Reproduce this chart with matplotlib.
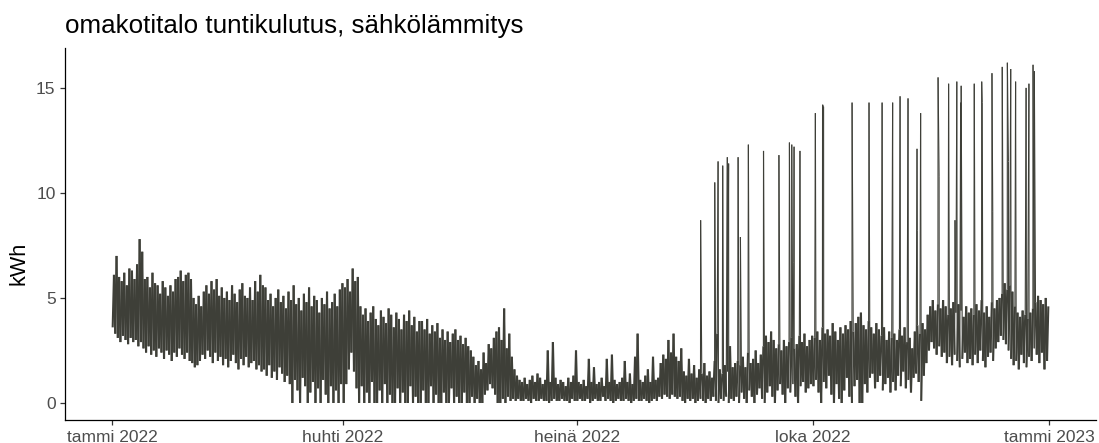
import numpy as np
import matplotlib
matplotlib.use('Agg')
import matplotlib.pyplot as plt
from matplotlib.collections import LineCollection

plt.rcParams['font.family'] = ['Liberation Sans', 'DejaVu Sans']

# daily minimum / maximum hourly consumption (kWh), 2022
tammi_max = [6.1, 7.0, 6.0, 5.8, 6.2, 5.6, 6.4, 6.3, 5.9, 6.6, 7.8, 7.2, 5.9, 6.0, 5.5, 6.2,
             5.7, 5.6, 5.2, 5.8, 5.5, 5.1, 5.6, 5.3, 5.9, 6.0, 6.3, 5.8, 6.1, 6.2, 5.9]
tammi_min = [3.6, 3.3, 3.1, 2.9, 3.2, 3.0, 2.8, 3.1, 2.9, 3.0, 2.7, 2.9, 2.6, 2.4, 2.7, 2.3,
             2.5, 2.2, 2.6, 2.4, 2.1, 2.5, 2.3, 2.0, 2.4, 2.2, 2.6, 2.3, 2.1, 2.4, 2.0]
helmi_max = [5.0, 4.7, 5.1, 4.6, 5.3, 5.6, 5.2, 5.8, 5.4, 5.9, 5.1, 5.5, 5.0, 5.3, 4.9, 5.6,
             5.2, 4.8, 5.4, 5.7, 5.1, 5.0, 5.5, 4.9, 5.8, 5.3, 6.1, 5.6]
helmi_min = [1.9, 1.7, 1.8, 2.0, 2.3, 2.1, 2.5, 2.2, 1.9, 2.4, 2.0, 2.2, 1.8, 2.1, 1.7, 2.0,
             2.3, 1.9, 1.6, 2.1, 1.8, 2.2, 1.7, 1.9, 2.0, 1.6, 1.8, 1.5]
maalis_max = [5.5, 4.9, 5.2, 4.6, 5.0, 5.4, 4.8, 5.1, 4.5, 5.3, 4.9, 5.6, 4.7, 5.0, 4.4, 5.2,
              4.8, 5.5, 4.6, 5.1, 4.9, 4.3, 5.0, 4.7, 5.3, 4.5, 4.8, 5.2, 4.6, 5.4, 5.7]
maalis_min = [1.6, 1.3, 1.8, 1.2, 1.5, 1.1, 1.7, 1.4, 1.0, 1.3, 0.9, 0.0, 1.1, 0.6, 0.0, 1.2,
              0.8, 0.0, 0.5, 1.0, 0.0, 0.7, 0.0, 1.1, 0.4, 0.0, 0.8, 0.0, 0.6, 0.0, 0.9]
huhti_max = [5.5, 5.9, 5.3, 6.4, 5.8, 6.0, 4.6, 4.2, 4.5, 3.9, 4.3, 4.6, 4.0, 3.7, 4.4, 4.1,
             3.8, 4.5, 4.2, 3.6, 4.3, 4.0, 3.5, 4.2, 3.9, 4.4, 3.7, 4.1, 3.4, 3.9]
huhti_min = [0.0, 0.9, 1.6, 2.4, 1.5, 0.7, 0.0, 0.8, 0.0, 0.5, 0.0, 1.0, 0.0, 0.0, 0.6, 0.0,
             0.9, 0.0, 0.4, 0.0, 0.0, 0.7, 0.0, 0.5, 0.0, 0.0, 0.8, 0.0, 0.3, 0.0]
touko_max = [3.9, 3.5, 4.0, 3.3, 3.7, 3.4, 3.8, 3.1, 3.5, 3.0, 3.4, 2.9, 3.3, 3.5, 3.0, 3.2,
             2.8, 3.1, 2.7, 2.5, 2.2, 1.8, 2.0, 1.6, 2.4, 1.9, 2.8, 2.6, 3.1, 3.4, 3.6]
touko_min = [0.0, 0.6, 0.0, 0.0, 0.8, 0.0, 0.4, 0.0, 0.0, 0.5, 0.0, 0.0, 0.7, 0.0, 0.3, 0.0,
             0.0, 0.5, 0.0, 0.0, 0.3, 0.0, 0.2, 0.0, 0.0, 0.4, 0.6, 0.9, 0.7, 0.4, 0.0]
kesa_max = [3.0, 4.5, 2.6, 3.3, 2.2, 1.6, 1.3, 1.1, 1.0, 1.2, 0.9, 1.1, 1.3, 1.0, 1.4, 1.2,
            0.9, 1.1, 2.5, 1.0, 2.9, 1.2, 0.9, 1.1, 1.0, 0.8, 1.2, 1.0, 1.3, 2.5]
kesa_min = [0.0, 0.2, 0.0, 0.3, 0.1, 0.2, 0.1, 0.2, 0.1, 0.1, 0.2, 0.1, 0.0, 0.2, 0.1, 0.1,
            0.2, 0.1, 0.1, 0.0, 0.1, 0.2, 0.1, 0.1, 0.2, 0.1, 0.1, 0.0, 0.2, 0.1]
heina_max = [1.0, 0.9, 1.1, 0.8, 2.1, 1.0, 1.7, 0.9, 1.0, 1.2, 0.8, 2.1, 1.0, 2.3, 1.1, 0.9,
             1.0, 1.2, 2.0, 1.0, 1.4, 0.9, 2.2, 3.3, 1.1, 1.0, 1.3, 1.6, 1.0, 2.2, 1.1]
heina_min = [0.1, 0.2, 0.1, 0.1, 0.2, 0.0, 0.1, 0.2, 0.1, 0.1, 0.3, 0.1, 0.2, 0.1, 0.0, 0.1,
             0.2, 0.1, 0.1, 0.2, 0.1, 0.0, 0.1, 0.2, 0.1, 0.1, 0.2, 0.1, 0.0, 0.1, 0.2]
elo_max = [1.2, 1.9, 2.3, 2.1, 3.0, 2.4, 3.3, 2.2, 2.0, 2.6, 1.5, 1.3, 2.1, 1.4, 1.8, 1.2,
           1.6, 1.4, 1.9, 1.3, 1.5, 1.2, 2.0, 3.3, 1.6, 1.4, 1.8, 1.5, 2.7, 1.7, 1.9]
elo_min = [0.1, 0.3, 0.2, 0.4, 0.3, 0.2, 0.4, 0.3, 0.2, 0.3, 0.1, 0.0, 0.2, 0.1, 0.2, 0.0,
           0.1, 0.2, 0.1, 0.0, 0.2, 0.1, 0.3, 0.1, 0.0, 0.2, 0.1, 0.3, 0.0, 0.2, 0.1]
syys_max = [2.0, 1.8, 2.2, 1.7, 2.4, 1.9, 2.1, 2.5, 1.9, 2.3, 2.7, 3.2, 2.9, 3.4, 3.0, 2.6,
            2.8, 2.5, 3.0, 2.7, 2.9, 3.1, 2.6, 2.8, 3.2, 2.9, 3.3, 2.7, 3.0, 3.2]
syys_min = [0.3, 0.0, 0.5, 0.2, 0.0, 0.6, 0.3, 0.0, 0.4, 0.7, 0.2, 0.0, 0.5, 0.8, 0.3, 0.0,
            0.6, 0.9, 0.4, 0.0, 0.7, 0.5, 0.9, 0.3, 0.0, 0.8, 1.0, 0.5, 0.7, 0.9]
loka_max = [3.1, 3.4, 3.0, 3.6, 3.3, 3.5, 3.2, 3.8, 3.4, 3.0, 3.6, 3.3, 3.7, 3.5, 3.9, 3.4,
            3.8, 4.1, 4.3, 3.7, 3.5, 3.9, 3.6, 3.3, 3.8, 3.5, 3.2, 3.6, 3.0, 3.4, 3.1]
loka_min = [0.8, 1.1, 0.5, 0.0, 1.0, 0.7, 1.3, 0.4, 0.0, 0.9, 0.2, 0.0, 0.6, 1.2, 0.3, 0.0,
            0.8, 1.1, 0.0, 0.0, 0.9, 0.5, 1.2, 1.4, 0.7, 1.0, 1.3, 0.6, 0.9, 1.2, 0.5]
marras_max = [3.3, 3.0, 3.5, 3.2, 3.6, 2.9, 3.1, 2.6, 3.4, 3.7, 3.3, 3.8, 3.5, 4.2, 4.6, 4.9,
              4.4, 4.7, 4.5, 4.9, 4.6, 4.2, 4.5, 4.8, 4.3, 4.7, 4.4, 4.1, 4.6, 4.3]
marras_min = [1.0, 0.6, 1.3, 0.8, 1.5, 0.7, 1.1, 0.5, 1.2, 1.4, 1.0, 0.1, 1.3, 1.9, 2.5, 2.9,
              2.6, 2.3, 2.7, 2.2, 2.4, 1.9, 2.2, 1.8, 2.3, 2.0, 1.7, 2.1, 2.4, 1.9]
joulu_max = [4.5, 4.2, 4.7, 4.4, 4.9, 4.3, 4.6, 4.1, 4.8, 4.5, 4.9, 5.0, 5.2, 5.7, 5.4, 5.6,
             5.3, 4.6, 4.3, 4.1, 4.4, 4.2, 4.0, 4.3, 4.5, 4.8, 5.1, 4.9, 4.7, 5.0, 4.6]
joulu_min = [2.1, 1.8, 2.3, 1.9, 2.5, 2.0, 1.7, 2.2, 2.4, 2.0, 2.6, 2.9, 3.2, 3.0, 2.8, 2.5,
             2.1, 1.8, 2.0, 1.6, 2.3, 1.9, 1.7, 2.2, 2.0, 2.6, 2.3, 1.9, 2.4, 1.6, 2.0]

# single hours with the water heater / sauna peaks (day of year, kWh)
spike_day = [229.3, 234.8, 236.1, 237.9, 239.7, 240.2, 243.9, 244.8, 247.9, 253.8,
             259.8, 263.9, 264.8, 265.6, 265.7, 268.0, 274.0, 276.8, 277.2, 288.3,
             294.9, 300.0, 304.1, 307.0, 307.1, 310.1, 313.6, 313.7, 315.0, 321.8,
             322.2, 325.9, 328.4, 329.1, 330.6, 330.8, 335.9, 338.8, 339.0, 342.8,
             343.1, 346.8, 348.8, 349.2, 350.1, 352.0, 356.1, 357.2, 358.8, 359.3]
spike_kwh = [8.7, 10.5, 11.5, 11.3, 11.7, 11.4, 11.7, 7.9, 12.3, 12.0,
             11.8, 12.4, 12.3, 6.7, 12.2, 12.0, 13.8, 14.2, 14.1, 14.3,
             14.3, 14.3, 14.3, 14.6, 6.0, 14.5, 12.1, 8.2, 13.8, 15.5,
             10.8, 15.2, 8.7, 15.3, 14.3, 15.1, 15.2, 15.3, 14.3, 15.7,
             9.1, 16.0, 16.2, 11.5, 15.9, 15.3, 15.0, 15.2, 16.1, 15.8]

tick_days = [0, 90, 181, 273, 365]
tick_labels = ['tammi 2022', 'huhti 2022', 'heinä 2022', 'loka 2022', 'tammi 2023']

#%%
day_min = np.concatenate([tammi_min, helmi_min, maalis_min, huhti_min, touko_min, kesa_min,
                          heina_min, elo_min, syys_min, loka_min, marras_min, joulu_min])
day_max = np.concatenate([tammi_max, helmi_max, maalis_max, huhti_max, touko_max, kesa_max,
                          heina_max, elo_max, syys_max, loka_max, marras_max, joulu_max])
days = np.arange(len(day_max))

# one low and one high hour per day, plus the single peak hours
t = np.column_stack([days + 0.25, days + 0.75]).ravel()
v = np.column_stack([day_min, day_max]).ravel()
peak = np.zeros(len(t), dtype=bool)
t = np.concatenate([t, spike_day])
v = np.concatenate([v, spike_kwh])
peak = np.concatenate([peak, np.ones(len(spike_day), dtype=bool)])
order = np.argsort(t, kind='stable')
t, v, peak = t[order], v[order], peak[order]

# peak hours are drawn as thin strokes, the daily band thicker
pts = np.column_stack([t, v])
segs = np.stack([pts[:-1], pts[1:]], axis=1)
thin = peak[:-1] | peak[1:]
widths = np.where(thin, 0.8, 1.5)

W, H = 1099, 443
fig = plt.figure(figsize=(W/100, H/100), dpi=100)
ax = fig.add_axes([65.2/W, (H-420)/H, 1030.6/W, 372/H])

lc = LineCollection(segs, colors='#3e3f38', linewidths=widths, capstyle='butt')
ax.add_collection(lc)

ax.set_xlim(-18.25, 383.25)
ax.set_ylim(-0.81, 16.9)
ax.set_xticks(tick_days)
ax.set_xticklabels(tick_labels)
ax.set_yticks([0, 5, 10, 15])
for s in ['top', 'right']:
    ax.spines[s].set_visible(False)
for s in ['left', 'bottom']:
    ax.spines[s].set_color('black')
    ax.spines[s].set_linewidth(0.9)
ax.tick_params(axis='both', length=3.9, width=0.9, color='#333333',
               labelcolor='#4d4d4d', labelsize=12.5, pad=3)

fig.text(65/W, 1 - 33/H, 'omakotitalo tuntikulutus, sähkölämmitys',
         fontsize=18.7, color='black', ha='left', va='baseline')
fig.text(19/W, 1 - 263/H, 'kWh', fontsize=15.6, rotation=90, ha='center', va='center')

fig.savefig('out.png', dpi=100)
